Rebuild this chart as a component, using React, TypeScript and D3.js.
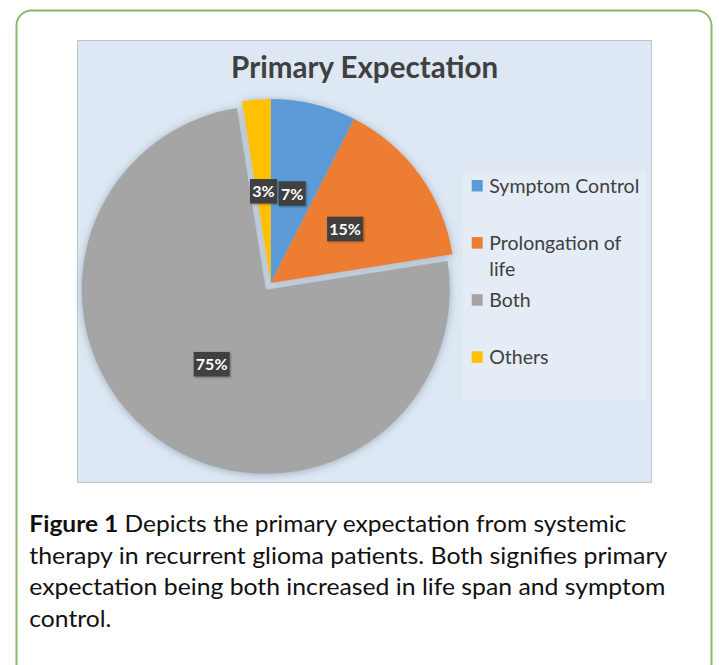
import * as d3 from "d3";
import { useMemo } from "react";

const W = 719;
const H = 665;

// data (slice sizes; labels as printed)
const categories = ["Symptom Control", "Prolongation of life", "Both", "Others"];
const values = [7.5, 15, 75, 2.5];
const pctLabels = ["7%", "15%", "75%", "3%"];
const legendLines = [["Symptom Control"], ["Prolongation of", "life"], ["Both"], ["Others"]];
const sliceColors = ["#5b9bd5", "#ed7d31", "#a5a5a5", "#ffc000"];
const explode = [0, 0, 8.4, 0];

const title = "Primary Expectation";
const captionLines = [
  { bold: "Figure 1", rest: " Depicts the primary expectation from systemic", width: 597 },
  { bold: "", rest: "therapy in recurrent glioma patients. Both signifies primary", width: 638 },
  { bold: "", rest: "expectation being both increased in life span and symptom", width: 636 },
  { bold: "", rest: "control.", width: 82 },
];

const FONT = "Lato, 'Open Sans', sans-serif";
const TXT = "#404040";

// chart frame
const CH = { x: 77.5, y: 40.5, w: 574, h: 442 };
const PIE = { cx: 270.7, cy: 283, r: 184 };
const LEG = { x: 462.7, y: 170.7, w: 183.3, h: 228.6 };

export default function App() {
  const arcs = useMemo(
    () =>
      d3
        .pie<number>()
        .sort(null)
        .value((d) => d)(values),
    [],
  );
  const arc = useMemo(
    () => d3.arc<d3.PieArcDatum<number>>().innerRadius(0).outerRadius(PIE.r),
    [],
  );

  const legendY = d3.scaleLinear().domain([0, 3]).range([192.7, 364]);

  return (
    <svg
      width={W}
      height={H}
      viewBox={`0 0 ${W} ${H}`}
      style={{ position: "absolute", left: 0, top: 0, background: "#fff" }}
    >
      <defs>
        <filter id="pieShadow" x="-20%" y="-20%" width="140%" height="140%">
          <feDropShadow dx="0" dy="1" stdDeviation="4.5" floodColor="#6d7f92" floodOpacity="0.55" />
        </filter>
        <filter id="boxShadow" x="-30%" y="-30%" width="160%" height="160%">
          <feDropShadow dx="1" dy="1" stdDeviation="1" floodColor="#000" floodOpacity="0.35" />
        </filter>
      </defs>

      {/* outer rounded green frame */}
      <rect
        x={16.5}
        y={10.5}
        width={695}
        height={668}
        rx={15}
        fill="#fff"
        stroke="#8cb86a"
        strokeWidth={2}
      />

      {/* chart area */}
      <rect x={CH.x} y={CH.y} width={CH.w} height={CH.h} fill="#dde8f4" stroke="#bfc4ca" strokeWidth={1} />

      <text
        x={364.6}
        y={78.3}
        textAnchor="middle"
        fontFamily={FONT}
        fontWeight={700}
        fontSize={30}
        fill={TXT}
        textLength={267}
        lengthAdjust="spacingAndGlyphs"
      >
        {title}
      </text>

      {/* pie slices */}
      <g filter="url(#pieShadow)">
        {arcs.map((a, i) => {
          const mid = (a.startAngle + a.endAngle) / 2;
          const dx = Math.sin(mid) * explode[i];
          const dy = -Math.cos(mid) * explode[i];
          return (
            <path
              key={categories[i]}
              d={arc(a) ?? ""}
              transform={`translate(${PIE.cx + dx},${PIE.cy + dy})`}
              fill={sliceColors[i]}
            />
          );
        })}
      </g>

      {/* data labels */}
      {arcs.map((a, i) => {
        const mid = (a.startAngle + a.endAngle) / 2;
        const [lx, ly] = arc.centroid(a);
        const ox = PIE.cx + lx + Math.sin(mid) * explode[i];
        const oy = PIE.cy + ly - Math.cos(mid) * explode[i];
        const label = pctLabels[i];
        const bw = label.length * 9 + 9;
        const bh = 24.5;
        return (
          <g key={`lab${i}`}>
            <rect
              x={ox - bw / 2}
              y={oy - bh / 2}
              width={bw}
              height={bh}
              fill="#404040"
              filter="url(#boxShadow)"
            />
            <text
              x={ox}
              y={oy + 6}
              textAnchor="middle"
              fontFamily={FONT}
              fontWeight={700}
              fontSize={16}
              fill="#fff"
            >
              {label}
            </text>
          </g>
        );
      })}

      {/* legend */}
      <rect x={LEG.x} y={LEG.y} width={LEG.w} height={LEG.h} fill="#e4ecf5" />
      {legendLines.map((lines, i) => {
        const by = legendY(i);
        return (
          <g key={`leg${i}`}>
            <rect x={471.7} y={by - 12.7} width={11} height={11.5} fill={sliceColors[i]} />
            {lines.map((ln, j) => (
              <text
                key={ln}
                x={489.3}
                y={by + j * 26}
                fontFamily={FONT}
                fontSize={19.5}
                fill={TXT}
              >
                {ln}
              </text>
            ))}
          </g>
        );
      })}

      {/* caption */}
      {captionLines.map((ln, i) => (
        <text
          key={`cap${i}`}
          x={29.3}
          y={531.7 + i * 31.8}
          fontFamily={FONT}
          fontSize={23.5}
          fill="#111"
          textLength={ln.width}
          lengthAdjust="spacingAndGlyphs"
        >
          {ln.bold && <tspan fontWeight={700}>{ln.bold}</tspan>}
          {ln.rest}
        </text>
      ))}
    </svg>
  );
}
